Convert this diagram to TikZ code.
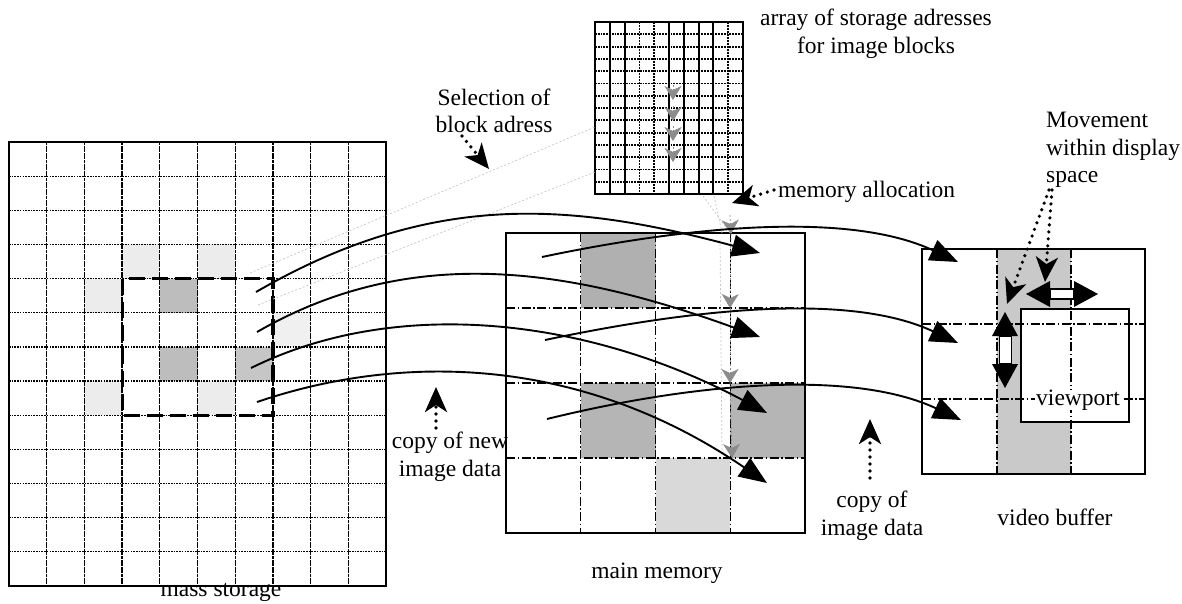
\documentclass[tikz,border=0pt]{standalone}
\usepackage{fontspec}
\setmainfont{Liberation Serif}
\usetikzlibrary{arrows.meta}
\newcommand{\mscell}[3]{\fill[#3] ({9+#1*37.7},{142+#2*34.15}) rectangle +(37.7,34.15);}
\newcommand{\mmcell}[3]{\fill[#3] ({506+#1*74.75},{233+#2*75}) rectangle +(74.75,75);}
\begin{document}
\begin{tikzpicture}[x=1pt,y=-1pt,
  lbl/.style={font=\fontsize{23.5}{27.5}\selectfont, inner sep=0pt, align=center},
  box/.style={draw, line width=2pt, inner sep=0pt, outer sep=0pt, anchor=north west},
  gridv/.style={line width=1.3pt, dash pattern=on 3pt off 0.6pt},
  gridh/.style={line width=1.3pt, dash pattern=on 1.6pt off 1.1pt},
  dashdot/.style={line width=1.3pt, dash pattern=on 9pt off 2.5pt on 1.5pt off 2.5pt},
  flow/.style={line width=1.9pt, -{Triangle[length=28pt,width=22pt]}},
  dotarrow/.style={line width=3.6pt, line cap=round, dash pattern=on 0pt off 7pt, -{Stealth[length=25pt,width=22pt,inset=7pt]}},
  faint/.style={gray!45, line width=0.7pt, dash pattern=on 2pt off 2pt},
  grayhead/.style={black!45, line width=0.7pt, dash pattern=on 2pt off 2pt, -{Stealth[length=14pt,width=17pt,inset=4pt]}}
]
\useasboundingbox (0,0) rectangle (1182,603);
\fill[white] (0,0) rectangle (1182,603);

% ---------- mass storage ----------
\mscell{4}{4}{gray!52}\mscell{4}{6}{gray!52}\mscell{6}{6}{gray!45}
\mscell{3}{3}{gray!15}\mscell{5}{3}{gray!15}\mscell{2}{4}{gray!15}
\mscell{2}{7}{gray!15}\mscell{5}{7}{gray!15}\mscell{7}{5}{gray!12}
\foreach \i in {1,...,9} \draw[gridv] ({9+\i*37.7},142) -- ({9+\i*37.7},586);
\foreach \j in {1,...,12} \draw[gridh] (9,{142+\j*34.15}) -- (386,{142+\j*34.15});
\node[box, minimum width=377pt, minimum height=444pt] (ms) at (9,142) {};
\draw[line width=3.2pt, dash pattern=on 16pt off 7pt] (122.1,278.6) rectangle (272.9,415.2);
\node[lbl] (mslbl) at (221,592) {mass storage};

% ---------- array of storage addresses ----------
\foreach \i in {1,2,5,6,7,8} \draw[line width=1.9pt] ({595+\i*14.8},22) -- ({595+\i*14.8},194);
\foreach \i in {3,4,9} \draw[line width=1.7pt, dash pattern=on 1.6pt off 1.4pt] ({595+\i*14.8},22) -- ({595+\i*14.8},194);
\foreach \j in {1,...,13} \draw[line width=1.9pt, dash pattern=on 1.8pt off 1pt] (595,{22+\j*12.29}) -- (743,{22+\j*12.29});
\node[box, minimum width=148pt, minimum height=172pt] (arr) at (595,22) {};
\node[lbl] (arrlbl) at (876,34) {array of storage adresses\\for image blocks};

% gray arrowheads inside the array
\foreach \t in {100,121,141,162} {
  \coordinate (ga\t) at (673,\t);
  \draw[grayhead] (673,{\t-15}) -- (ga\t);
}

% faint selection lines
\coordinate (f1a) at (250,273); \coordinate (f1b) at (595,127);
\coordinate (f2a) at (258,305); \coordinate (f2b) at (595,172);
\draw[faint] (f1a) -- (f1b);
\draw[faint] (f2a) -- (f2b);

% ---------- main memory ----------
\mmcell{1}{0}{gray!62}\mmcell{1}{2}{gray!58}\mmcell{3}{2}{gray!58}\mmcell{2}{3}{gray!30}
\foreach \i in {1,2,3} \draw[dashdot] ({506+\i*74.75},233) -- ({506+\i*74.75},533);
\foreach \j in {1,2,3} \draw[dashdot] (506,{233+\j*75}) -- (805,{233+\j*75});
\node[box, minimum width=299pt, minimum height=300pt] (mm) at (506,233) {};
\node[lbl] (mmlbl) at (657,573) {main memory};

% gray allocation path
\coordinate (g0) at (703,196);
\coordinate (g1) at (731,234);
\coordinate (g2) at (730,308);
\coordinate (g3) at (730,383);
\coordinate (g4) at (732,458);
\draw[faint] (g0) -- (g1);
\draw[faint] (714,196) -- (722,233);
\draw[faint] (720,240) -- (722,455);
\draw[grayhead] (730,215) -- (g1);
\draw[grayhead] (g1) -- (g2);
\draw[grayhead] (g2) -- (g3);
\draw[grayhead] (g3) -- (g4);

% ---------- video buffer ----------
\fill[gray!42] (997,249) rectangle (1071,474);
\fill[white] (1020,308) rectangle (1128,421);
\draw[dashdot] (997,249) -- (997,474);
\draw[dashdot] (1071,249) -- (1071,474);
\draw[dashdot] (922,324) -- (1145,324);
\draw[dashdot] (922,399) -- (1145,399);
\node[box, minimum width=223pt, minimum height=225pt] (vb) at (922,249) {};
\node[draw, line width=2.4pt, inner sep=0pt, anchor=north west, minimum width=108pt, minimum height=113pt] (vp) at (1020,308) {};
\node[lbl, fill=white, inner xsep=1pt] (vplbl) at (1078,400) {viewport};
\node[lbl] (vblbl) at (1055,517) {video buffer};

% double arrows
\fill (1026,294) -- (1050,281) -- (1050,307) -- cycle;
\fill (1098,294) -- (1074,281) -- (1074,307) -- cycle;
\draw[line width=1.8pt, fill=white] (1050,289) rectangle (1074,299);
\coordinate (hmid) at (1062,294);
\fill (1005,312) -- (992,336) -- (1018,336) -- cycle;
\fill (1005,388) -- (992,364) -- (1018,364) -- cycle;
\draw[line width=1.8pt, fill=white] (999.5,336) rectangle (1011.5,364);
\coordinate (vmid) at (1005,350);

% ---------- flows: mass storage -> main memory ----------
\coordinate (s1) at (256,292); \coordinate (e1) at (760,253);
\coordinate (s2) at (257,332); \coordinate (e2) at (760,337);
\coordinate (s3) at (251,368); \coordinate (e3) at (767,413);
\coordinate (s4) at (257,402); \coordinate (e4) at (767,483);
\draw[flow] (s1) .. controls +(173,-100) and +(-193,-52) .. (e1);
\draw[flow] (s2) .. controls +(156,-90) and +(-188,-68) .. (e2);
\draw[flow] (s3) .. controls +(148,-73) and +(-177,-94) .. (e3);
\draw[flow] (s4) .. controls +(153,-52) and +(-180,-123) .. (e4);

% ---------- flows: main memory -> video buffer ----------
\coordinate (sa) at (542,257); \coordinate (ea) at (958,262);
\coordinate (sb) at (545,340); \coordinate (eb) at (958,343);
\coordinate (sc) at (547,419); \coordinate (ec) at (961,420);
\draw[flow] (sa) .. controls +(147,-31) and +(-109,-51) .. (ea);
\draw[flow] (sb) .. controls +(147,-31) and +(-109,-51) .. (eb);
\draw[flow] (sc) .. controls +(146,-36) and +(-109,-51) .. (ec);

% ---------- labels with dotted arrows ----------
\node[lbl] (sel) at (494,111) {Selection of\\block adress};
\coordinate (selA) at (462,136); \coordinate (selB) at (489,169);
\draw[dotarrow] (selA) -- (selB);

\node[lbl, anchor=west] (alloc) at (778,192) {memory allocation};
\coordinate (allA) at (774,190); \coordinate (allB) at (732,203);
\draw[dotarrow] (allA) -- (allB);

\node[lbl, align=left, anchor=west] (move) at (1046,150) {Movement\\within display\\space};
\coordinate (mvA) at (1052,190); \coordinate (mvB) at (1045,282);
\coordinate (mvC) at (1049,190); \coordinate (mvD) at (1007,304);
\draw[dotarrow] (mvA) -- (mvB);
\draw[dotarrow] (mvC) -- (mvD);

\node[lbl] (cnew) at (450,457) {copy of new\\image data};
\coordinate (cnA) at (436,428); \coordinate (cnB) at (436,387);
\draw[dotarrow] (cnA) -- (cnB);

\node[lbl] (cold) at (872,516) {copy of\\image data};
\coordinate (coA) at (870,478); \coordinate (coB) at (870,419);
\draw[dotarrow] (coA) -- (coB);
\end{tikzpicture}
\end{document}
